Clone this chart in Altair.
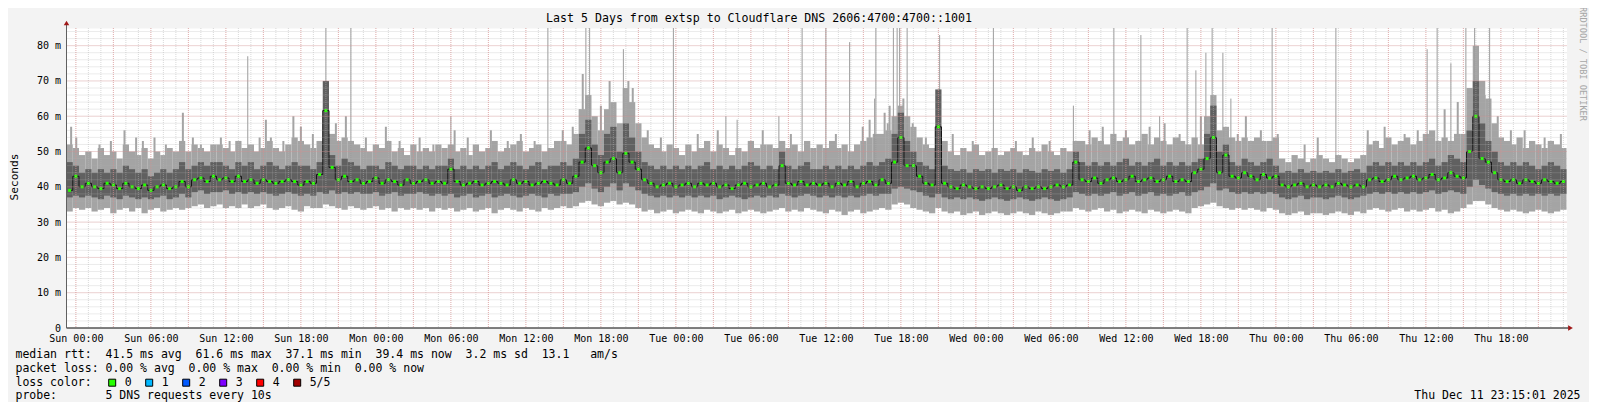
import json
import altair as alt
import pandas as pd

# ---------------- data (ms), 30-minute bins starting Sat 23:15 (hour -0.75 from Sun 00:00) ----------------
START_H = -0.75
BIN_H = 0.5

hi = [52, 51, 49, 50, 48, 51, 49, 50, 48, 52, 50, 49, 51, 48, 50, 49, 51, 50, 53, 50,
      52, 51, 50, 52, 52, 51, 50, 53, 51, 52, 50, 51, 53, 51, 50, 52, 54, 53, 52, 51,
      53, 58, 55, 53, 54, 53, 52, 51, 50, 52, 51, 53, 50, 51, 49, 52, 50, 51, 50, 52,
      51, 52, 50, 51, 49, 52, 50, 51, 53, 50, 51, 52, 53, 50, 51, 52, 50, 51, 53, 53,
      52, 55, 62, 66, 60, 56, 62, 64, 58, 68, 64, 58, 54, 52, 51, 50, 52, 51, 49, 52,
      50, 51, 53, 50, 52, 51, 49, 51, 50, 53, 51, 52, 52, 51, 53, 51, 52, 50, 53, 51,
      52, 51, 53, 51, 52, 50, 52, 53, 54, 55, 55, 56, 60, 63, 60, 57, 54, 52, 51, 56,
      53, 50, 49, 51, 50, 52, 49, 50, 51, 49, 50, 51, 50, 49, 51, 50, 52, 50, 49, 51,
      50, 53, 53, 52, 54, 53, 52, 55, 53, 54, 52, 53, 55, 52, 54, 53, 52, 54, 53, 52,
      54, 52, 60, 66, 56, 57, 54, 53, 54, 53, 54, 53, 53, 54, 48, 47, 49, 48, 47, 48,
      49, 48, 47, 49, 48, 47, 48, 49, 52, 53, 51, 54, 52, 53, 54, 52, 53, 55, 56, 53,
      54, 53, 55, 55, 68, 80, 70, 65, 58, 54, 53, 52, 54, 51, 53, 52, 51, 53, 52, 51]

dhi = [47, 46, 44, 45, 44, 45, 44, 45, 44, 46, 45, 44, 45, 43, 44, 45, 44, 45, 47, 45,
       46, 47, 46, 47, 47, 46, 45, 47, 46, 47, 45, 46, 47, 46, 45, 46, 47, 46, 46, 45,
       47, 70, 49, 46, 48, 47, 46, 45, 46, 46, 45, 47, 46, 45, 46, 46, 45, 46, 45, 46,
       46, 48, 45, 46, 45, 46, 45, 46, 47, 45, 46, 47, 46, 45, 46, 47, 45, 46, 46, 47,
       46, 48, 55, 59, 52, 49, 55, 57, 50, 58, 54, 50, 47, 46, 45, 46, 45, 46, 45, 46,
       45, 46, 47, 45, 46, 45, 46, 45, 46, 47, 46, 45, 46, 45, 50, 46, 45, 46, 47, 45,
       45, 46, 45, 46, 45, 46, 45, 46, 47, 46, 47, 48, 55, 61, 53, 50, 47, 46, 45, 67.6,
       46, 45, 44.5, 45, 44, 45, 44.5, 45, 44, 45, 44.5, 45, 44, 45, 44.5, 44, 45, 44.5, 45, 44,
       45, 50, 47, 46, 47, 46, 47, 46, 47, 48, 46, 47, 46, 47, 48, 46, 47, 46, 47, 46,
       47, 48, 55, 63, 50, 52, 47, 46, 48, 47, 46, 47, 48, 46, 44, 44.5, 44, 45, 44, 44.5,
       44, 44.5, 44, 45, 44, 44.5, 45, 44, 46, 47, 46, 47, 46, 47, 46, 47, 46, 47, 48, 46,
       47, 49, 48, 47, 56, 70, 58, 53, 50, 47, 46, 47, 46, 47, 46, 45, 46, 47, 46, 45]

med = [39, 43, 40, 41, 40, 39.5, 41, 40.5, 39.5, 41, 40, 39.5, 40.5, 39, 40, 40.5, 39.5, 40, 41.5, 40,
       42, 42.5, 41.5, 43, 42, 42.5, 41.5, 43, 41.5, 42, 41, 42, 41.5, 41, 41.5, 42, 41.5, 40.5, 41.5, 41,
       43.5, 61.6, 45.5, 42, 43, 41.5, 42, 41, 41.5, 42.5, 41, 42, 41.5, 40.5, 42, 41, 41.5, 42, 41, 41.5,
       41, 45, 41.5, 40.5, 41, 41.5, 40.5, 41, 41.5, 41, 40.5, 42, 41, 41.5, 40.5, 41, 41.5, 41, 40.5, 42,
       41, 43, 47, 51, 46, 44, 47, 48, 44, 49.5, 47, 45, 42, 41, 40, 40.5, 41, 40, 40.5, 41,
       40, 41, 40.5, 41, 40, 40.5, 39.5, 40.5, 41, 40, 40.5, 41, 40, 40.5, 46, 41, 40.5, 41.5, 40.5, 41,
       40.5, 41, 40, 41, 40.5, 41.5, 40, 41, 41.5, 40.5, 42, 41, 47, 54, 46, 46, 43, 41, 40.5, 57,
       41, 40, 39.5, 40.5, 40, 39.5, 40, 39.5, 40, 40.5, 39.5, 40, 39, 40, 39.5, 40, 39.5, 40, 40.5, 40,
       40.5, 47, 42, 41.5, 42.5, 41, 42, 42.5, 41.5, 42, 43, 41.5, 42, 42.5, 41.5, 42, 43, 41.5, 42, 41.5,
       44, 45, 48, 54, 44, 49, 43, 42.5, 44, 43, 42, 43.5, 42.5, 43, 40.5, 40, 40.5, 41, 40, 40.5,
       40, 40.5, 40, 41, 40.5, 40, 40.5, 40, 42, 42.5, 41.5, 42, 43, 42, 42.5, 43, 42, 42.5, 43.5, 42,
       42.5, 44, 43, 42.5, 50, 60, 48, 47, 44, 42, 41.5, 42, 41, 42, 41.5, 41, 42, 41.5, 41, 41.5]

dlo = [37, 37.5, 37, 37.5, 37, 36.5, 37.5, 37, 36.5, 37.5, 37, 36.5, 37, 36.5, 37, 37.5, 36.5, 37, 38, 37,
       38.5, 39, 38, 38.5, 38.5, 39, 38, 38.5, 38, 38.5, 38, 38.5, 38, 37.5, 38, 38.5, 38, 37.5, 38, 37.5,
       38.5, 38, 39, 38, 38.5, 38, 38.5, 38, 38, 38.5, 37.5, 38, 38.5, 37.5, 38, 38, 38.5, 38, 37.5, 38,
       37.5, 38, 37, 37.5, 38, 37, 37.5, 38, 37, 37.5, 38, 37.5, 37, 37.5, 38, 37.5, 37, 38, 37.5, 38,
       38, 38.5, 40, 41, 39.5, 38.5, 40, 41, 39, 41, 40, 39, 38, 37.5, 37, 37.5, 37, 37.5, 37, 37.5,
       37, 37.5, 37, 37.5, 36.5, 37, 37.5, 37, 36.5, 37, 37.5, 37, 37.5, 37, 38, 37.5, 37, 37.5, 38, 37.5,
       37, 37.5, 37, 37.5, 37, 37.5, 37, 37.5, 38, 37.5, 38, 38, 39.5, 40, 39.5, 39, 38.5, 37.5, 37, 38,
       37, 36.5, 37, 36.5, 37, 36.5, 36, 36.5, 37, 36.5, 36, 36.5, 37, 36.5, 36, 36.5, 37, 36.5, 36, 36.5,
       37, 38.5, 38, 37.5, 38, 37.5, 38, 38.5, 37.5, 38, 38.5, 37.5, 38, 38.5, 37.5, 38, 37.5, 38, 38.5, 37.5,
       38.5, 39, 40, 41, 39, 39.5, 38.5, 38, 38.5, 38, 38.5, 38, 38.5, 38, 37, 36.5, 37, 37.5, 36.5, 37,
       37, 36.5, 37, 37.5, 37, 36.5, 37, 37.5, 38, 38.5, 38, 38.5, 38, 38.5, 38, 38.5, 38, 38.5, 39, 38,
       38.5, 39, 38.5, 38, 40, 42, 40.5, 39.5, 38.5, 38, 37.5, 38, 37.5, 38, 37.5, 38, 37.5, 38, 37.5, 38]

lo = [33, 34, 33.5, 34, 33, 33.5, 34, 32.5, 33.5, 34, 33, 34, 32.5, 33.5, 34, 33, 33.5, 34, 33.5, 34,
      34.5, 35, 34, 34.5, 35, 34, 34.5, 34, 35, 34, 34.5, 35, 34, 33.5, 34, 34.5, 33.5, 33, 34.5, 34,
      34, 35, 34.5, 34, 33.5, 34.5, 34, 33.5, 34, 34.5, 33.5, 34, 33, 34, 33.5, 34, 33.5, 34, 33, 34,
      33.5, 34, 33, 33.5, 34, 33, 33.5, 34, 32.5, 33.5, 34, 33.5, 33, 34, 33.5, 33, 34, 33.5, 34, 34.5,
      34, 34.5, 35.5, 36, 35, 34.5, 35.5, 36, 35, 35.5, 35, 34, 33, 33.5, 32.5, 33, 33.5, 32.5, 33, 33.5,
      33, 32.5, 33.5, 33, 32.5, 33, 33.5, 32.5, 33, 33.5, 33, 32.5, 33, 33.5, 34, 33, 33.5, 33, 34, 33.5,
      33, 32.5, 33.5, 33, 32, 33, 33.5, 32.5, 33, 33.5, 34, 33.5, 35, 35.5, 35, 34, 33.5, 33, 32.5, 34,
      33, 32.5, 33, 32, 32.5, 33, 32, 32.5, 33, 32.5, 32, 32.5, 33, 32.5, 32, 33, 32.5, 32, 32.5, 33,
      33, 34, 33.5, 33, 33.5, 34, 33, 33.5, 32.5, 33, 33.5, 33, 32.5, 33.5, 33, 32.5, 33, 33.5, 33, 32.5,
      34, 34.5, 35, 35.5, 34.5, 34, 33.5, 34, 33.5, 34, 33.5, 33, 34, 33.5, 32.5, 32, 32.5, 33, 32, 32.5,
      32.5, 32, 32.5, 33, 32.5, 32, 33, 32.5, 33.5, 34, 33.5, 33, 33.5, 34, 33, 33.5, 33, 33.5, 34, 33,
      33.5, 32.5, 33, 34, 35, 36, 36, 35, 34, 33.5, 33, 33.5, 33, 32.5, 33, 33.5, 33, 32.5, 33, 33.5]

# thin single-sample spikes: hour (from Sun 00:00) and top value (ms, clipped at 85)
spike_h = [13.75, 20.0, 22.0, 30.0, 37.76, 40.8, 41.1, 43.8, 47.8, 52.0, 52.9, 56.24, 58.1,
           60.0, 61.9, 63.9, 64.0, 65.4, 65.7, 65.9, 66.5, 69.1, 73.4, 79.8, 83.04, 85.2, 86.7,
           88.9, 89.6, 90.4, 90.9, 91.76, 92.4, 95.7, 100.8, 108.1, 108.9, 110.0, 111.2, 111.9, 113.1]
spike_top = [77, 85, 85, 60, 85, 85, 85, 79, 85, 60, 59, 60, 85,
             85, 81, 65, 85, 85, 85, 85, 85, 83, 85, 63, 85, 83, 60,
             85, 73, 78, 85, 78, 65, 85, 85, 79, 85, 75, 85, 85, 85]
spike_base = 45

# shorter needles of the light smoke: hour and top value (ms)
needle_h = [-0.38, 0.03, 1.89, 2.8, 3.89, 4.82, 5.36, 6.29, 7.2, 8.56, 9.36, 10.0, 11.6, 12.3,
            13.09, 14.7, 15.2, 15.6, 16.6, 17.4, 18.0, 18.96, 20.8, 21.6, 23.2, 24.8, 25.9, 27.5,
            28.6, 30.3, 31.35, 33.2, 34.55, 35.6, 36.7, 38.95, 39.75, 40.3, 40.55, 42.0, 42.7,
            44.2, 44.55, 45.75, 46.8, 49.75, 51.35, 54.95, 57.2, 58.55, 60.8, 62.95, 63.5, 64.7,
            64.95, 65.1, 66.2, 66.95, 68.0, 70.15, 71.75, 75.2, 76.55, 77.9, 81.1, 82.15, 84.0,
            85.9, 87.1, 88.3, 90.0, 92.95, 93.6, 94.8, 96.15, 98.3, 99.35, 103.35, 104.7, 106.3,
            107.35, 109.5, 110.55, 112.0, 112.7, 113.75, 114.8, 115.9, 117.5, 118.8]
needle_top = [57, 54, 52, 53, 56, 54, 53, 54, 52, 61, 54, 52, 54, 53,
              53, 54, 59, 54, 53, 60, 57, 55, 58, 60, 54, 57, 53, 54,
              52, 56, 54, 56, 53, 55, 53, 56, 57, 62, 72, 63, 70,
              70, 68, 56, 54, 55, 56, 56, 55, 53, 55, 57, 59, 61,
              58, 63, 65, 58, 54, 55, 53, 53, 54, 53, 56, 57, 56,
              57, 58, 55, 60, 55, 60, 56, 55, 52, 54, 56, 57, 55,
              56, 62, 64, 80, 66, 60, 56, 56, 54, 55]

days = ["Sun", "Mon", "Tue", "Wed", "Thu"]
tick_hours = list(range(0, 120, 6))
tick_labels = [f"{d} {h:02d}:00" for d in days for h in (0, 6, 12, 18)]
y_ticks = list(range(0, 81, 10))

title_text = "Last 5 Days from extsp to Cloudflare DNS 2606:4700:4700::1001"
legend_lines = [
    "median rtt:  41.5 ms avg  61.6 ms max  37.1 ms min  39.4 ms now  3.2 ms sd  13.1   am/s",
    "packet loss: 0.00 % avg  0.00 % max  0.00 % min  0.00 % now",
    "loss color:",
    "probe:       5 DNS requests every 10s",
]
loss_labels = ["0", "1", "2", "3", "4", "5/5"]
loss_colors = ["#26ff00", "#00b8ff", "#0059ff", "#7e00ff", "#ff0000", "#a10000"]
date_text = "Thu Dec 11 23:15:01 2025"
side_text = "RRDTOOL / TOBI OETIKER"

FONT = "DejaVu Sans Mono"
W, H = 1500, 300
LIGHT = "#a4a4a4"

# ---------------- tables ----------------
n = len(med)
df = pd.DataFrame({
    "h": [START_H + BIN_H * i for i in range(n)],
    "h2": [START_H + BIN_H * (i + 1) for i in range(n)],
    "hc": [START_H + BIN_H * (i + 0.5) for i in range(n)],
    "lo": lo, "dlo": dlo, "med": med, "dhi": dhi, "hi": hi,
})
spikes = pd.DataFrame({"h": spike_h, "top": spike_top, "base": [spike_base] * len(spike_h)})
needles = pd.DataFrame({"h": needle_h, "top": needle_top, "base": [spike_base] * len(needle_h)})

xs = alt.Scale(domain=[START_H, START_H + BIN_H * n], nice=False, zero=False)
ys = alt.Scale(domain=[0, 85], nice=False)

x_axis = alt.Axis(values=tick_hours,
                  labelExpr=f"{json.dumps(tick_labels)}[indexof({json.dumps(tick_hours)}, datum.value)]",
                  grid=False, domain=False, ticks=False, labelPadding=5,
                  labelFont=FONT, labelFontSize=10, labelColor="#000",
                  labelOverlap=False, labelFlush=False, title="")
y_axis = alt.Axis(values=y_ticks,
                  labelExpr="datum.value == 0 ? '0\u00a0\u00a0' : datum.value + ' m'",
                  grid=False, domain=False, ticks=False, labelPadding=6,
                  labelFont=FONT, labelFontSize=10, labelColor="#000",
                  labelBaseline="middle", title="")


def X(field):
    return alt.X(field, scale=xs, axis=x_axis)


def Y(field):
    return alt.Y(field, scale=ys, axis=y_axis)


base = alt.Chart(df)

light = base.mark_rect(color=LIGHT).encode(x=X("h:Q"), x2="h2", y=Y("lo:Q"), y2="hi")

needle_layer = alt.Chart(needles).mark_rule(color=LIGHT, strokeWidth=2, clip=True).encode(
    x=X("h:Q"), y=Y("base:Q"), y2="top")

spike_layer = alt.Chart(spikes).mark_rule(color="#9c9c9c", strokeWidth=1, clip=True).encode(
    x=X("h:Q"), y=Y("base:Q"), y2="top")

dark = base.mark_rect(color="#606060").encode(x=X("h:Q"), x2="h2", y=Y("dlo:Q"), y2="dhi")

med_line = base.mark_line(color="#151515", strokeWidth=1, interpolate="step").encode(
    x=X("hc:Q"), y=Y("med:Q"))

med_dots = base.mark_square(color="#26ff00", size=9, opacity=1).encode(x=X("hc:Q"), y=Y("med:Q"))

# grid
vmin = pd.DataFrame({"v": list(range(0, 120))})
vmaj = pd.DataFrame({"v": list(range(0, 120, 3))})
hmin = pd.DataFrame({"v": list(range(2, 85, 2))})
hmaj = pd.DataFrame({"v": list(range(10, 85, 10))})

grid_vmin = alt.Chart(vmin).mark_rule(color="#b4b4b4", opacity=0.5, strokeDash=[1, 1], strokeWidth=1).encode(
    x=X("v:Q"))
grid_hmin = alt.Chart(hmin).mark_rule(color="#b4b4b4", opacity=0.5, strokeDash=[1, 1], strokeWidth=1).encode(
    y=Y("v:Q"))
grid_vmaj = alt.Chart(vmaj).mark_rule(color="#f07070", opacity=0.4, strokeDash=[1, 1], strokeWidth=1).encode(
    x=X("v:Q"))
grid_hmaj = alt.Chart(hmaj).mark_rule(color="#f07070", opacity=0.4, strokeDash=[1, 1], strokeWidth=1).encode(
    y=Y("v:Q"))

one = pd.DataFrame({"k": [0]})

x_line = alt.Chart(one).mark_rule(color="#000000", strokeWidth=1).encode(
    x=alt.value(0), x2=alt.value(W + 2), y=alt.value(H))
y_line = alt.Chart(one).mark_rule(color="#606060", strokeWidth=1).encode(
    x=alt.value(0), y=alt.value(H), y2=alt.value(-4))
x_arrow = alt.Chart(one).mark_point(shape="triangle-right", filled=True, color="#a01818", size=30, opacity=1).encode(
    x=alt.value(W + 4), y=alt.value(H))
y_arrow = alt.Chart(one).mark_point(shape="triangle-up", filled=True, color="#a01818", size=30, opacity=1).encode(
    x=alt.value(0), y=alt.value(-5))


def text_layer(s, x, y, size=11.5, align="left", angle=0, color="#000000"):
    return alt.Chart(one).mark_text(font=FONT, fontSize=size, align=align, baseline="middle",
                                    angle=angle, color=color).encode(
        x=alt.value(x), y=alt.value(y), text=alt.value(s.replace(" ", "\u00a0")))


texts = [
    text_layer(title_text, 692.5, -9, size=11.6, align="center"),
    text_layer("Seconds", -51.5, 149, size=11.2, align="center", angle=270),
    text_layer(legend_lines[0], -51, 326.5),
    text_layer(legend_lines[1], -51, 340.5),
    text_layer(legend_lines[2], -51, 354.5),
    text_layer(legend_lines[3], -51, 367.5),
    text_layer(date_text, 1514, 367.5, align="right"),
    text_layer(side_text, 1516.5, 36, size=8.6, align="center", angle=90, color="#a6a6a6"),
]

swatches = []
for i, (c, lab) in enumerate(zip(loss_colors, loss_labels)):
    sx = 45.7 + 37 * i
    swatches.append(alt.Chart(one).mark_square(size=49, fill=c, stroke="#000000", strokeWidth=1, opacity=1).encode(
        x=alt.value(sx), y=alt.value(354.7)))
    swatches.append(text_layer(lab, sx + 12.5, 354.5))

chart = alt.layer(
    light, needle_layer, spike_layer, dark, med_line, med_dots,
    grid_vmin, grid_hmin, grid_vmaj, grid_hmaj,
    x_line, y_line, x_arrow, y_arrow,
    *texts, *swatches,
).properties(
    width=W, height=H,
    padding={"left": 58.5, "top": 20, "right": 22.5, "bottom": 74},
    autosize=alt.AutoSizeParams(type="none"),
).configure(
    background="#f3f3f3",
).configure_view(
    fill="#ffffff", stroke="transparent",
)

chart.save("out.html", embed_options={"renderer": "svg", "actions": False})
